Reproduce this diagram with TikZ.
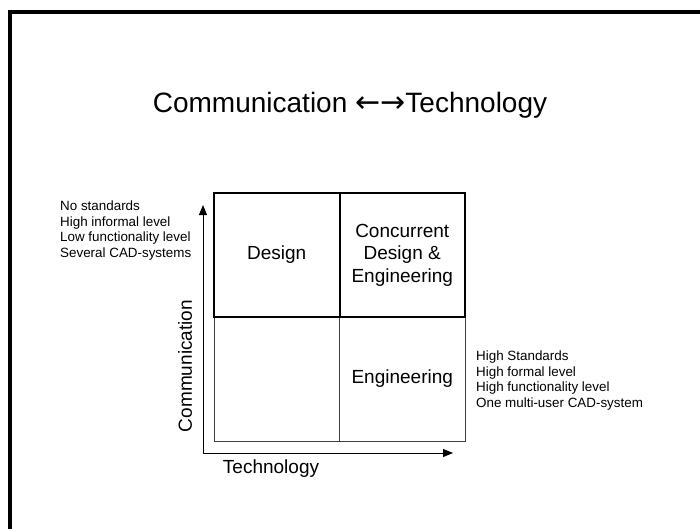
\documentclass[tikz,border=0pt]{standalone}
\usepackage{fontspec}
\setmainfont{Liberation Sans}
\newfontfamily\arrowfont{DejaVu Sans}
\usetikzlibrary{arrows.meta}

\begin{document}
\begin{tikzpicture}[x=1pt, y=-1pt, >={Triangle[length=10pt, width=8pt]}]
            \tikzset{
                cell/.style={draw, inner sep=0pt, minimum width=125.5pt, minimum height=124pt,
                    font=\fontsize{19}{22.5}\selectfont, align=center},
                topcell/.style={cell, line width=2pt},
                lowcell/.style={cell, draw=black!75, line width=1pt},
                note/.style={anchor=north west, inner sep=0pt, align=left,
                    font=\fontsize{13.4}{15.5}\selectfont}
            };
            \useasboundingbox (0, 0) rectangle (700, 529);
            \draw[line width=4pt, miter limit=10] (10, 540) -- (10, 12.5) -- (710, 12.5);
            \node[font=\fontsize{28}{32}\selectfont] (title) at (350, 105)
                {Communication {\arrowfont\fontsize{30}{30}\selectfont ←→}Technology};
            \node[lowcell] (empty) at (276.75, 379) {};
            \node[lowcell] (eng) at (402.25, 379) {Engineering};
            \node[topcell] (dsgn) at (276.75, 255) {Design};
            \node[topcell] (cde) at (402.25, 255) {Concurrent\\Design \&\\Engineering};
            \coordinate (orig) at (203, 453);
            \coordinate (ctop) at (203, 205);
            \coordinate (tend) at (453, 453);
            \draw[->, line width=1pt] (orig) -- (ctop);
            \draw[->, line width=1pt] (orig) -- (tend);
            \node[rotate=90, font=\fontsize{19}{22}\selectfont] (comm) at (185, 366) {Communication};
            \node[font=\fontsize{19}{22}\selectfont] (tech) at (271, 469) {Technology};
            \node[note] (lownote) at (60, 201) {No standards\\High informal level\\Low functionality level\\Several CAD-systems};
            \node[note] (highnote) at (476, 351) {High Standards\\High formal level\\High functionality level\\One multi-user CAD-system};
        \end{tikzpicture}
\end{document}
